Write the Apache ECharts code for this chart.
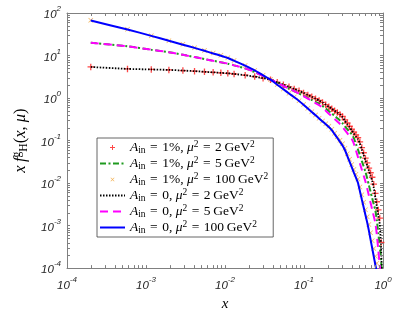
<!DOCTYPE html>
<html><head><meta charset="utf-8">
<script src="https://cdn.jsdelivr.net/npm/echarts@6/dist/echarts.min.js"></script>
<style>html,body{margin:0;padding:0;background:#fff}#c{width:415px;height:317px}</style>
</head><body><div id="c"></div><script>
// ---- data ----
const xGrid = [2.0e-4, 5.83e-4, 1.166e-3, 1.948e-3, 2.931e-3, 4.114e-3, 5.497e-3, 7.080e-3, 8.862e-3, 0.01085,
  0.01303, 0.01799, 0.02376, 0.03033, 0.03769, 0.04586, 0.05482, 0.06459, 0.07515, 0.08652,
  0.09868, 0.1117, 0.1254, 0.1400, 0.1553, 0.1715, 0.1885, 0.2062, 0.2248, 0.2442,
  0.2643, 0.2853, 0.3071, 0.3296, 0.3530, 0.3772, 0.4021, 0.4279, 0.4545, 0.4818,
  0.5100, 0.5390, 0.5687, 0.5993, 0.6307, 0.6628, 0.6958, 0.7296, 0.7641, 0.7995,
  0.8357, 0.8726, 0.9104, 0.9489, 0.9883];
// A_in = 1%, mu^2 = 2 (red +)
const yA1Mu2 = [5.38, 4.85, 4.70, 4.59, 4.43, 4.29, 4.14, 4.02, 3.91, 3.82,
  3.68, 3.44, 3.19, 2.93, 2.70, 2.35, 2.06, 1.83, 1.64, 1.48,
  1.32, 1.18, 1.07, 0.964, 0.877, 0.787, 0.698, 0.622, 0.557, 0.502,
  0.454, 0.412, 0.370, 0.307, 0.259, 0.217, 0.185, 0.157, 0.136, 0.117,
  0.0935, 0.0684, 0.0516, 0.0384, 0.0297, 0.0224, 0.0175, 0.0137, 0.0094, 0.00575,
  0.00364, 0.00234, 0.0015, 0.0004, 0.00003];
// A_in = 1%, mu^2 = 5 (green dash-dot)
const yA1Mu5 = [20.0, 16.5, 13.7, 12.0, 10.4, 9.20, 8.26, 7.53, 6.93, 6.43,
  5.87, 4.98, 4.11, 3.30, 2.71, 2.27, 1.93, 1.66, 1.45, 1.27,
  1.13, 1.00, 0.900, 0.813, 0.740, 0.655, 0.566, 0.493, 0.433, 0.382,
  0.336, 0.296, 0.255, 0.216, 0.185, 0.159, 0.140, 0.114, 0.0829, 0.0615,
  0.0450, 0.0333, 0.0248, 0.0185, 0.0129, 0.0089, 0.00623, 0.0044, 0.00315, 0.00232,
  0.00134, 0.00065, 0.00032, 0.00015, 0.00002];
// A_in = 1%, mu^2 = 100 (orange x)
const yA1Mu100 = [67.5, 41.5, 29.2, 22.4, 18.3, 15.3, 13.1, 11.4, 10.1, 8.85,
  7.60, 5.80, 4.46, 3.44, 2.72, 2.08, 1.63, 1.30, 1.06, 0.866,
  0.705, 0.575, 0.476, 0.398, 0.335, 0.288, 0.249, 0.216, 0.185, 0.149,
  0.123, 0.101, 0.0837, 0.0659, 0.0486, 0.0364, 0.0275, 0.0209, 0.0161, 0.0124,
  0.00808, 0.00531, 0.00352, 0.00237, 0.00162, 0.00106, 0.00068, 0.00044, 0.00029, 0.00019,
  0.00013, 0.00003, null, null, null];
// A_in = 0, mu^2 = 2 (black dotted)
const yA0Mu2 = [5.38, 4.85, 4.70, 4.59, 4.43, 4.29, 4.14, 4.02, 3.91, 3.82,
  3.68, 3.44, 3.19, 2.93, 2.70, 2.35, 2.06, 1.83, 1.64, 1.48,
  1.32, 1.18, 1.07, 0.964, 0.877, 0.787, 0.698, 0.622, 0.557, 0.502,
  0.454, 0.412, 0.352, 0.292, 0.244, 0.205, 0.173, 0.147, 0.126, 0.108,
  0.0850, 0.0622, 0.0461, 0.0343, 0.0258, 0.0195, 0.0148, 0.0114, 0.0077, 0.0046,
  0.0028, 0.00173, 0.00107, 0.00025, 0.00002];
// A_in = 0, mu^2 = 5 (magenta dashed)
const yA0Mu5 = [20.0, 16.5, 13.7, 12.0, 10.4, 9.20, 8.26, 7.53, 6.93, 6.43,
  5.87, 4.98, 4.11, 3.30, 2.71, 2.27, 1.93, 1.66, 1.45, 1.27,
  1.11, 0.972, 0.857, 0.760, 0.679, 0.590, 0.501, 0.429, 0.370, 0.321,
  0.280, 0.245, 0.209, 0.176, 0.149, 0.127, 0.109, 0.0842, 0.0584, 0.0410,
  0.0290, 0.0208, 0.0150, 0.0109, 0.0075, 0.0051, 0.00346, 0.00238, 0.00166, 0.00116,
  0.00061, 0.00026, 0.000113, 0.00005, 0.00001];
// A_in = 0, mu^2 = 100 (blue solid)
const yA0Mu100 = [66.7, 40.9, 29.0, 22.2, 18.0, 15.1, 12.9, 11.2, 9.90, 8.75,
  7.55, 5.78, 4.45, 3.43, 2.70, 2.06, 1.61, 1.28, 1.04, 0.853,
  0.696, 0.568, 0.470, 0.393, 0.331, 0.282, 0.242, 0.208, 0.176, 0.141,
  0.115, 0.0934, 0.0768, 0.0599, 0.0434, 0.0319, 0.0237, 0.0177, 0.0134, 0.0102,
  0.00646, 0.00415, 0.00271, 0.00178, 0.00119, 0.00076, 0.00047, 0.000295, 0.000188, 0.00012,
  0.000078, 0.00002, null, null, null];

const ainLabels = ['1%', '1%', '1%', '0', '0', '0'];
const mu2Labels = ['2', '5', '100', '2', '5', '100'];
const xMajorTicks = [1e-4, 1e-3, 1e-2, 1e-1, 1];
const yMajorTicks = [1e-4, 1e-3, 1e-2, 1e-1, 1, 10, 100];
const xMinorTicks = [2e-4,3e-4,4e-4,5e-4,6e-4,7e-4,8e-4,9e-4,
  2e-3,3e-3,4e-3,5e-3,6e-3,7e-3,8e-3,9e-3,
  2e-2,3e-2,4e-2,5e-2,6e-2,7e-2,8e-2,9e-2,
  0.2,0.3,0.4,0.5,0.6,0.7,0.8,0.9];
const yMinorTicks = [2e-4,3e-4,4e-4,5e-4,6e-4,7e-4,8e-4,9e-4,
  2e-3,3e-3,4e-3,5e-3,6e-3,7e-3,8e-3,9e-3,
  2e-2,3e-2,4e-2,5e-2,6e-2,7e-2,8e-2,9e-2,
  0.2,0.3,0.4,0.5,0.6,0.7,0.8,0.9,
  2,3,4,5,6,7,8,9,
  20,30,40,50,60,70,80,90];

// ---- chart ----
const X_MIN = xMajorTicks[0], X_MAX = xMajorTicks[xMajorTicks.length - 1];
const Y_MIN = yMajorTicks[0], Y_MAX = yMajorTicks[yMajorTicks.length - 1];
const names = ainLabels.map((a, i) => 'A_in = ' + a + ', μ² = ' + mu2Labels[i] + ' GeV²');
const pairs = ys => xGrid.map((x, i) => [x, ys[i]]).filter(p => p[1] != null);
const AX = '#808080';
const TXT = '#262626';

const plusPath = 'path://M4,0H6V4H10V6H6V10H4V6H0V4H4Z';
const crossPath = 'path://M0,1L1,0L5,4L9,0L10,1L6,5L10,9L9,10L5,6L1,10L0,9L4,5Z';
const plusLegend = 'path://M-2,-2M12,12M4,0H6V4H10V6H6V10H4V6H0V4H4Z';
const crossLegend = 'path://M-4,-4M14,14M0,1L1,0L5,4L9,0L10,1L6,5L10,9L9,10L5,6L1,10L0,9L4,5Z';

const expLabel = v => '{b|10}{s|' + Math.round(Math.log10(v)) + '}';
const tickRich = {
  b: {fontFamily: 'Liberation Sans', fontStyle: 'italic', fontSize: 11.5, color: TXT, lineHeight: 16, verticalAlign: 'bottom'},
  s: {fontFamily: 'Liberation Sans', fontStyle: 'italic', fontSize: 8, color: TXT, lineHeight: 16, verticalAlign: 'top'}
};
const mk = (fs, lh) => ({
  i: {fontFamily: 'Liberation Serif', fontStyle: 'italic', fontSize: fs, color: '#000', lineHeight: lh, verticalAlign: 'middle'},
  n: {fontFamily: 'Liberation Serif', fontSize: fs, color: '#000', lineHeight: lh, verticalAlign: 'middle'},
  sb: {fontFamily: 'Liberation Serif', fontSize: fs * 0.7, color: '#000', lineHeight: lh, verticalAlign: 'bottom'},
  sp: {fontFamily: 'Liberation Serif', fontSize: fs * 0.7, color: '#000', lineHeight: lh, verticalAlign: 'top'}
});
const legendRich = mk(13.5, 15);
const nameRich = mk(16.5, 19);

const chart = echarts.init(document.getElementById('c'), null, {renderer: 'canvas'});

const baseX = {type: 'log', logBase: 10, min: X_MIN, max: X_MAX, splitLine: {show: false},
  axisLine: {show: true, lineStyle: {color: AX, width: 1}},
  axisTick: {show: true, inside: true, length: 3, lineStyle: {color: AX}}};
const baseY = {type: 'log', logBase: 10, min: Y_MIN, max: Y_MAX, splitLine: {show: false},
  axisLine: {show: true, lineStyle: {color: AX, width: 1}},
  axisTick: {show: true, inside: true, length: 3, lineStyle: {color: AX}}};

const minorX = {
  type: 'custom', silent: true, clip: false, xAxisIndex: 0, yAxisIndex: 0, z: 5,
  data: xMinorTicks.map(v => [v, 1]),
  renderItem: (p, api) => {
    const v = api.value(0);
    const b = api.coord([v, Y_MIN]), t = api.coord([v, Y_MAX]);
    const x = Math.round(b[0]) + 0.5;
    return {type: 'group', children: [
      {type: 'line', shape: {x1: x, y1: b[1], x2: x, y2: b[1] - 3}, style: {stroke: AX, lineWidth: 1}},
      {type: 'line', shape: {x1: x, y1: t[1], x2: x, y2: t[1] + 3}, style: {stroke: AX, lineWidth: 1}}
    ]};
  }
};
const minorY = {
  type: 'custom', silent: true, clip: false, xAxisIndex: 0, yAxisIndex: 0, z: 5,
  data: yMinorTicks.map(v => [0.01, v]),
  renderItem: (p, api) => {
    const v = api.value(1);
    const l = api.coord([X_MIN, v]), r = api.coord([X_MAX, v]);
    const y = Math.round(l[1]) + 0.5;
    return {type: 'group', children: [
      {type: 'line', shape: {x1: l[0], y1: y, x2: l[0] + 3, y2: y}, style: {stroke: AX, lineWidth: 1}},
      {type: 'line', shape: {x1: r[0], y1: y, x2: r[0] - 3, y2: y}, style: {stroke: AX, lineWidth: 1}}
    ]};
  }
};

const hideSym = {opacity: 0};
chart.setOption({
  animation: false,
  backgroundColor: '#fff',
  grid: {left: 67, right: 32, top: 13, bottom: 44, containLabel: false},
  xAxis: [
    Object.assign({}, baseX, {position: 'bottom',
      axisLabel: {formatter: expLabel, margin: 8, rich: tickRich},
      name: 'x', nameLocation: 'middle', nameGap: 23,
      nameTextStyle: {fontFamily: 'Liberation Serif', fontStyle: 'italic', fontSize: 15, color: '#000'}}),
    Object.assign({}, baseX, {position: 'top', axisLabel: {show: false}})
  ],
  yAxis: [
    Object.assign({}, baseY, {position: 'left',
      axisLabel: {formatter: expLabel, margin: 6, rich: tickRich},
      name: '{i|x\u2009f}{sp|g}{sb|H}{n|(}{i|x}{n|, }{i|μ}{n|)}', nameLocation: 'middle', nameGap: 31, nameRotate: 90,
      nameTextStyle: {rich: nameRich}}),
    Object.assign({}, baseY, {position: 'right', axisLabel: {show: false}})
  ],
  legend: {
    orient: 'vertical', left: 97, top: 138, itemWidth: 25, itemHeight: 7, itemGap: 1,
    padding: [2, 5, 2, 2], backgroundColor: '#fff', borderColor: '#404040', borderWidth: 0.8, borderRadius: 0,
    data: [
      {name: names[0], icon: plusLegend},
      {name: names[1], itemStyle: hideSym},
      {name: names[2], icon: crossLegend},
      {name: names[3], itemStyle: hideSym},
      {name: names[4], itemStyle: hideSym},
      {name: names[5], itemStyle: hideSym}
    ],
    textStyle: {fontFamily: 'Liberation Serif', fontSize: 13.5, color: '#000', rich: legendRich},
    formatter: name => {
      const i = names.indexOf(name);
      return '{i|A}{sb|in}{n|\u2004=\u2004' + ainLabels[i] + ', }{i|μ}{sp|2}{n|\u2004=\u2004' + mu2Labels[i] + '\u2009GeV}{sp|2}';
    }
  },
  series: [
    {name: names[0], type: 'scatter', data: pairs(yA1Mu2), symbol: plusPath, symbolSize: 6.5,
      itemStyle: {color: '#ff1a1a'}, clip: true},
    {name: names[1], type: 'line', data: pairs(yA1Mu5), symbol: 'none', showSymbol: false, smooth: 0.2,
      lineStyle: {color: '#1f9a1f', width: 2, type: [6, 2.5, 2, 2.5]}, itemStyle: {color: '#1f9a1f'}, clip: true},
    {name: names[2], type: 'scatter', data: pairs(yA1Mu100), symbol: crossPath, symbolSize: 5,
      itemStyle: {color: '#f0a030'}, clip: true},
    {name: names[3], type: 'line', data: pairs(yA0Mu2), symbol: 'none', showSymbol: false, smooth: 0.2,
      lineStyle: {color: '#000', width: 1.8, type: [1.5, 1.5]}, itemStyle: {color: '#000'}, clip: true},
    {name: names[4], type: 'line', data: pairs(yA0Mu5), symbol: 'none', showSymbol: false, smooth: 0.2,
      lineStyle: {color: '#ff00ff', width: 2, type: [8, 5]}, itemStyle: {color: '#ff00ff'}, clip: true},
    {name: names[5], type: 'line', data: pairs(yA0Mu100), symbol: 'none', showSymbol: false, smooth: 0.2,
      lineStyle: {color: '#0000ff', width: 2}, itemStyle: {color: '#0000ff'}, clip: true},
    minorX, minorY
  ]
});
</script></body></html>
